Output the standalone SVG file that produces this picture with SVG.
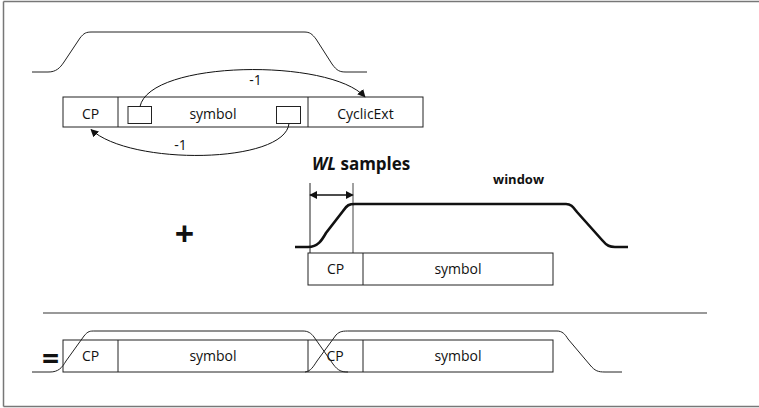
<svg xmlns="http://www.w3.org/2000/svg" width="759" height="408" viewBox="0 0 759 408">
<style>
.frame{stroke:#777;stroke-width:1.5;fill:none}
.box{fill:#fff;stroke:#222;stroke-width:1}
.div{stroke:#222;stroke-width:1}
.lbl{font-family:"Open Sans","Liberation Sans",sans-serif;font-size:14px;fill:#111;text-anchor:middle}
.wave{fill:none;stroke:#222;stroke-width:1}
.bold{font-family:"Open Sans","Liberation Sans",sans-serif;font-weight:bold;fill:#111}
.conn{fill:none;stroke:#111;stroke-width:1}
</style>
<defs>
<marker id="ah" viewBox="0 0 10 10" refX="9" refY="5" markerWidth="8" markerHeight="8" markerUnits="userSpaceOnUse" orient="auto-start-reverse">
<path d="M0,0 L10,5 L0,10 z" fill="#111"/>
</marker>
</defs>
<rect width="759" height="408" fill="#fff"/>
<g id="frame">
<line class="frame" x1="3.5" y1="1.5" x2="759" y2="1.5"/>
<line class="frame" x1="3.5" y1="1.5" x2="3.5" y2="406.5"/>
<line class="frame" x1="3.5" y1="406.5" x2="759" y2="406.5"/>
<line class="frame" x1="43" y1="313" x2="707" y2="313"/>
</g>
<g id="top-window">
<path class="wave" d="M32,72 H48 C56,72 60,68 64,62 L80,38 C84,33 86,32 92,32 H304 C310,32 312,34 316,39 L332,64 C337,71 340,72 346,72 H367"/>
</g>
<g id="top-bar">
<rect class="box" x="63" y="97" width="360" height="30"/>
<line class="div" x1="118" y1="97" x2="118" y2="127"/>
<line class="div" x1="308" y1="97" x2="308" y2="127"/>
<rect class="box" x="128" y="106.5" width="23.5" height="17"/>
<rect class="box" x="276.5" y="106.5" width="24" height="17"/>
<text class="lbl" x="90.5" y="118.5">CP</text>
<text class="lbl" x="213" y="118.5">symbol</text>
<text class="lbl" x="365.5" y="118.5">CyclicExt</text>
</g>
<g id="connectors">
<path class="conn" d="M140,106.5 C150,60 330,58 365,97" marker-end="url(#ah)"/>
<path class="conn" d="M289,123.5 C285,164 130,166 91,129.5" marker-end="url(#ah)"/>
<text class="lbl" x="255.5" y="85">-1</text>
<text class="lbl" x="180.5" y="150">-1</text>
<line x1="310" y1="195" x2="353" y2="195" stroke="#111" stroke-width="1.5" marker-start="url(#ah)" marker-end="url(#ah)"/>
</g>
<g id="plus">
<text class="bold" x="184.5" y="245.5" font-size="34" text-anchor="middle" font-family="Liberation Sans">+</text>
</g>
<g id="middle">
<text class="bold" x="312" y="170" font-size="17"><tspan font-style="italic">WL</tspan> samples</text>
<text class="bold" x="493" y="183.5" font-size="13">window</text>
<line x1="310" y1="183" x2="310" y2="253" stroke="#222" stroke-width="1"/>
<line x1="353" y1="183" x2="353" y2="253" stroke="#444" stroke-width="1"/>
<path fill="none" stroke="#111" stroke-width="2.6" d="M295,247 H308 C318,247 322,240 326,233 L343,211 C347,205 349,204 355,204 H566 C571,204 573,207 577,212 L602,240 C607,246 610,247 615,247 H628"/>
<rect class="box" x="308" y="253" width="245" height="32"/>
<line class="div" x1="363" y1="253" x2="363" y2="285"/>
<text class="lbl" x="335.5" y="274">CP</text>
<text class="lbl" x="458" y="274">symbol</text>
</g>
<g id="result">
<text class="bold" x="50.5" y="369" font-size="30" text-anchor="middle" font-family="Liberation Sans">=</text>
<rect class="box" x="63" y="340" width="490" height="32"/>
<line class="div" x1="118" y1="340" x2="118" y2="372"/>
<line class="div" x1="308" y1="340" x2="308" y2="372"/>
<line class="div" x1="363" y1="340" x2="363" y2="372"/>
<text class="lbl" x="90.5" y="361">CP</text>
<text class="lbl" x="213" y="361">symbol</text>
<text class="lbl" x="335" y="361">CP</text>
<text class="lbl" x="458" y="361">symbol</text>
<path class="wave" d="M32,372 H50 C58,372 62,368 66,361 L84,336 C88,331 90,331 95,331 H303 C308,331 311,333 314,337 L333,364 C338,371 342,372 348,372"/>
<path class="wave" d="M305,372 C311,371 313,367 317,361 L336,335 C340,331 343,331 350,331 H557 C562,331 565,334 568,339 L590,365 C595,371 598,372 605,372 H622"/>
</g>
</svg>
